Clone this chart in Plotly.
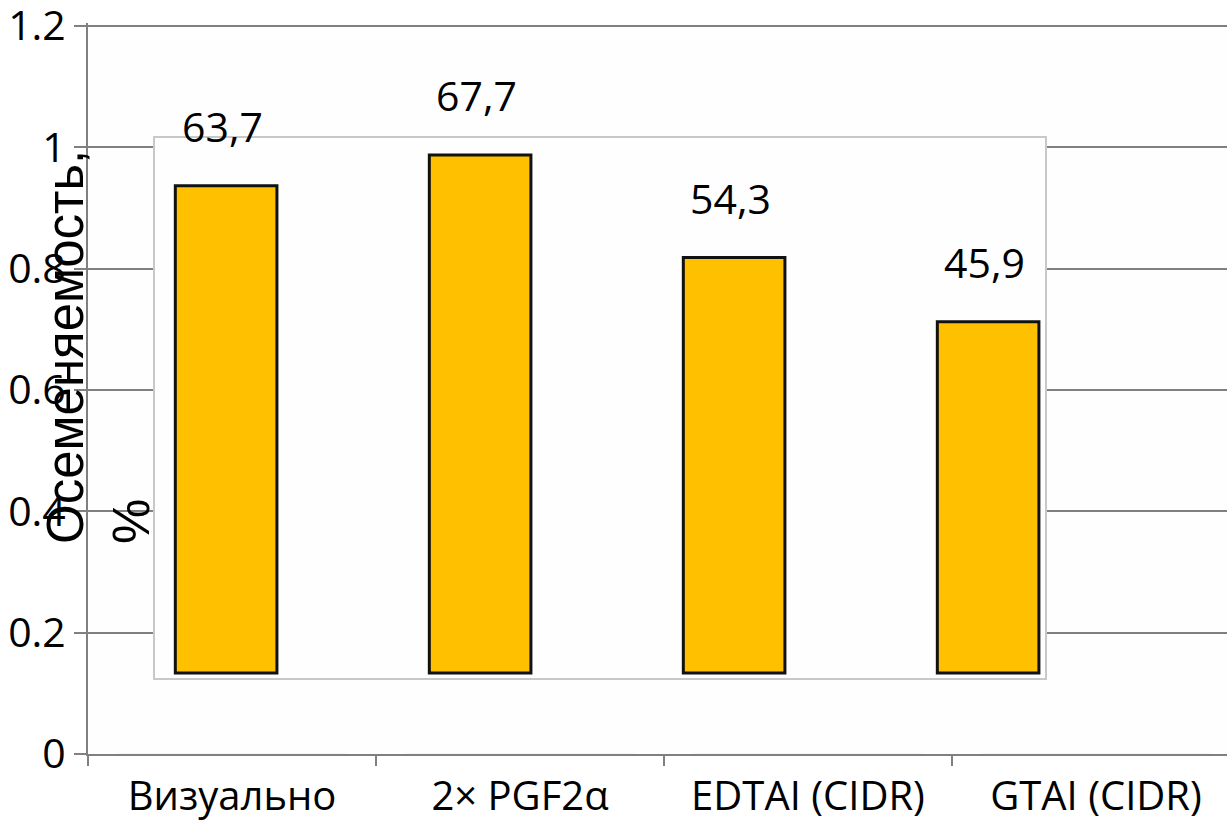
import plotly.graph_objects as go

# ---- data ----
categories = ["Визуально", "2× PGF2α", "EDTAI (CIDR)", "GTAI (CIDR)"]
values = [63.7, 67.7, 54.3, 45.9]
value_labels = ["63,7", "67,7", "54,3", "45,9"]
y_ticks = [0, 0.2, 0.4, 0.6, 0.8, 1.0, 1.2]
y_tick_labels = ["0", "0.2", "0.4", "0.6", "0.8", "1", "1.2"]
y_title = "Осеменяемость,<br>%"

W, H = 1227, 824
L, R, T, B = 88, 0, 23, 70
pw, ph = W - L - R, H - T - B
PX_PER_UNIT = 728 / 1.2
Y_TOP = ph / PX_PER_UNIT


def px_x(p):
    return (p - L) / pw


def px_y(p):
    return (H - B - p) / ph


LABEL_FONT = dict(family="Open Sans", size=40, color="#000000")
GRID = "#808080"

fig = go.Figure()

# invisible trace to establish the outer (empty) category axis
fig.add_trace(go.Bar(x=categories, y=[0, 0, 0, 0], xaxis="x", yaxis="y",
                     marker=dict(color="rgba(0,0,0,0)"), showlegend=False,
                     hoverinfo="skip"))

# inner chart bars
fig.add_trace(go.Bar(
    x=list(range(len(categories))), y=values, xaxis="x2", yaxis="y2",
    width=0.4,
    marker=dict(color="#FFC000", line=dict(color="#111111", width=3)),
    showlegend=False,
))

annotations = []
for i, (v, lab) in enumerate(zip(values, value_labels)):
    annotations.append(dict(
        x=i, y=v, xref="x2", yref="y2", text=lab, showarrow=False,
        yanchor="middle", xanchor="center", yshift=60, xshift=-4,
        font=dict(family="Open Sans", size=41, color="#000000"),
    ))

annotations.append(dict(
    x=px_x(98), y=px_y(347), xref="paper", yref="paper",
    text=y_title, showarrow=False, textangle=-90, align="left",
    xanchor="center", yanchor="middle",
    font=dict(family="Liberation Sans", size=51, color="#000000"),
))

fig.update_layout(
    width=W, height=H,
    margin=dict(l=L, r=R, t=T, b=B, pad=0),
    paper_bgcolor="#ffffff",
    plot_bgcolor="#fefefe",
    showlegend=False,
    annotations=annotations,
    xaxis=dict(
        type="category", range=[-0.5, -0.5 + pw / 288.0],
        showgrid=False, showline=True, linecolor=GRID, linewidth=2,
        ticks="outside", tickson="boundaries", ticklen=10, tickwidth=2,
        tickcolor=GRID, tickfont=LABEL_FONT, zeroline=False,
        ticklabelstandoff=6, fixedrange=True,
    ),
    yaxis=dict(
        range=[0, Y_TOP], tickmode="array", tickvals=y_ticks,
        ticktext=y_tick_labels, automargin=False,
        ticklabeloverflow="allow",
        showgrid=True, gridcolor=GRID, gridwidth=2,
        showline=True, linecolor=GRID, linewidth=2,
        ticks="outside", ticklen=12, tickwidth=2, tickcolor=GRID,
        tickfont=dict(family="Open Sans", size=41, color="#000000"),
        zeroline=False,
    ),
    xaxis2=dict(
        domain=[px_x(155), px_x(1045)], anchor="y2",
        range=[-0.28, -0.28 + 890 / 254.0],
        showgrid=False, zeroline=False, showticklabels=False, ticks="",
        showline=True, mirror=True, linecolor="#c8c8c8", linewidth=1.5,
    ),
    yaxis2=dict(
        domain=[px_y(678), px_y(138)], anchor="x2",
        range=[-5 / 7.65, (678 - 138 - 5) / 7.65],
        showgrid=False, zeroline=False, showticklabels=False, ticks="",
        showline=True, mirror=True, linecolor="#c8c8c8", linewidth=1.5,
    ),
)

fig.write_html("out.html", config={"displayModeBar": False},
               post_script="document.body.style.margin='0';")
